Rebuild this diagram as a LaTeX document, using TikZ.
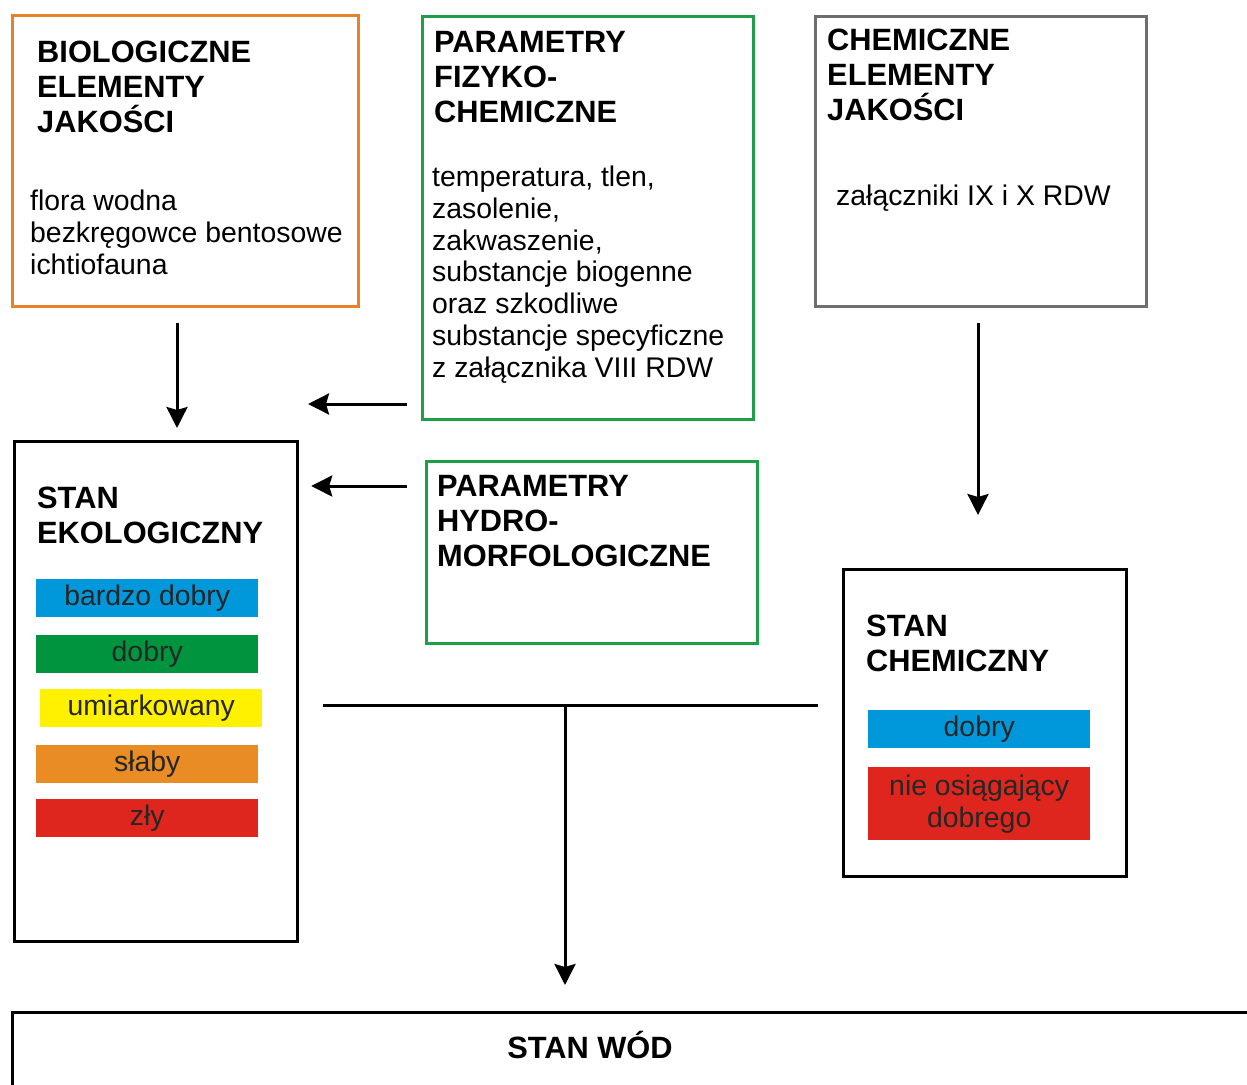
\documentclass[tikz,border=0pt]{standalone}
\usepackage{fontspec}
\setmainfont{Liberation Sans}
\usetikzlibrary{arrows.meta,calc}
\definecolor{cOra}{RGB}{232,130,40}
\definecolor{cGrn}{RGB}{30,160,75}
\definecolor{cGry}{RGB}{110,110,110}
\definecolor{bBlu}{RGB}{0,152,218}
\definecolor{bGrn}{RGB}{0,148,62}
\definecolor{bYel}{RGB}{255,241,0}
\definecolor{bOra}{RGB}{232,140,35}
\definecolor{bRed}{RGB}{222,38,30}
\tikzset{
  box/.style={draw, line width=3.2pt, rectangle, inner sep=0pt, anchor=north west},
  hd/.style={anchor=base west, align=left, inner sep=0pt, font=\bfseries\fontsize{30.8}{35}\selectfont},
  txt/.style={anchor=base west, align=left, inner sep=0pt, font=\fontsize{28.4}{31.7}\selectfont},
  bar/.style={anchor=north west, inner sep=0pt, minimum width=222pt, minimum height=38pt, align=center, font=\fontsize{28.4}{32}\selectfont, text=black!85},
  arr/.style={-{Stealth[length=21pt,width=21pt,inset=3pt]}, line width=3pt},
  ln/.style={line width=3pt}
}
\begin{document}
\begin{tikzpicture}[x=1pt,y=-1pt]
  \useasboundingbox (0,0) rectangle (1247,1084);
  \clip (0,0) rectangle (1247,1084);
  % boxes
  \node[box, draw=cOra, minimum width=346pt, minimum height=291pt] (bio) at (11,14) {};
  \node[box, draw=cGrn, minimum width=331pt, minimum height=403pt] (fiz) at (421,15) {};
  \node[box, draw=cGry, minimum width=331pt, minimum height=290pt] (chm) at (814,15) {};
  \node[box, minimum width=283pt, minimum height=500pt] (eko) at (13,440) {};
  \node[box, draw=cGrn, minimum width=331pt, minimum height=182pt] (hyd) at (425,460) {};
  \node[box, minimum width=283pt, minimum height=307pt] (stc) at (842,568) {};
  \node[box, minimum width=1300pt, minimum height=200pt] (wod) at (11,1011) {};
  % texts (placed at the baseline of their last line)
  \node[hd] (bioT) at (37,132) {BIOLOGICZNE\\ELEMENTY\\JAKOŚCI};
  \node[txt] (bioL) at (30,274) {flora wodna\\bezkręgowce bentosowe\\ichtiofauna};
  \node[hd] (fizT) at (434,122) {PARAMETRY\\FIZYKO-\\CHEMICZNE};
  \node[txt] (fizL) at (432,377) {temperatura, tlen,\\zasolenie,\\zakwaszenie,\\substancje biogenne\\oraz szkodliwe\\substancje specyficzne\\z załącznika VIII RDW};
  \node[hd] (chmT) at (827,120) {CHEMICZNE\\ELEMENTY\\JAKOŚCI};
  \node[txt] (chmL) at (836,205) {załączniki IX i X RDW};
  \node[hd] (ekoT) at (37,543) {STAN\\EKOLOGICZNY};
  \node[hd] (hydT) at (437,566) {PARAMETRY\\HYDRO-\\MORFOLOGICZNE};
  \node[hd] (stcT) at (866,671) {STAN\\CHEMICZNY};
  \node[hd, anchor=base] (wodT) at (590,1058) {STAN WÓD};
  % classes
  \foreach \nm/\x/\y/\c/\t in {k1/36/579/bBlu/bardzo dobry, k2/36/635/bGrn/dobry, k3/40/689/bYel/umiarkowany, k4/36/745/bOra/słaby, k5/36/799/bRed/zły}
    \node[bar, fill=\c] (\nm) at (\x,\y) {\t};
  \node[bar, fill=bBlu] (c1) at (868,710) {dobry};
  \node[bar, fill=bRed, minimum height=73pt] (c2) at (868,767) {nie osiągający\\dobrego};
  % connectors
  \coordinate (fizE) at (308,404);
  \coordinate (join) at (565,705);
  \draw[arr, shorten <=15pt, shorten >=12pt] (bio.south -| 177,0) -- (eko.north -| 177,0);
  \draw[arr, shorten <=14pt] (fiz.west |- fizE) -- (fizE);
  \draw[arr, shorten <=18pt, shorten >=12pt] (hyd.west |- 0,486) -- (eko.east |- 0,486);
  \draw[arr, shorten <=15pt, shorten >=53pt] (chm.south -| 978,0) -- (stc.north -| 978,0);
  \draw[ln, shorten <=24pt, shorten >=24pt] (eko.east |- join) -- (stc.west |- join);
  \draw[arr, shorten >=26pt] (join) -- (wod.north -| join);
\end{tikzpicture}
\end{document}
